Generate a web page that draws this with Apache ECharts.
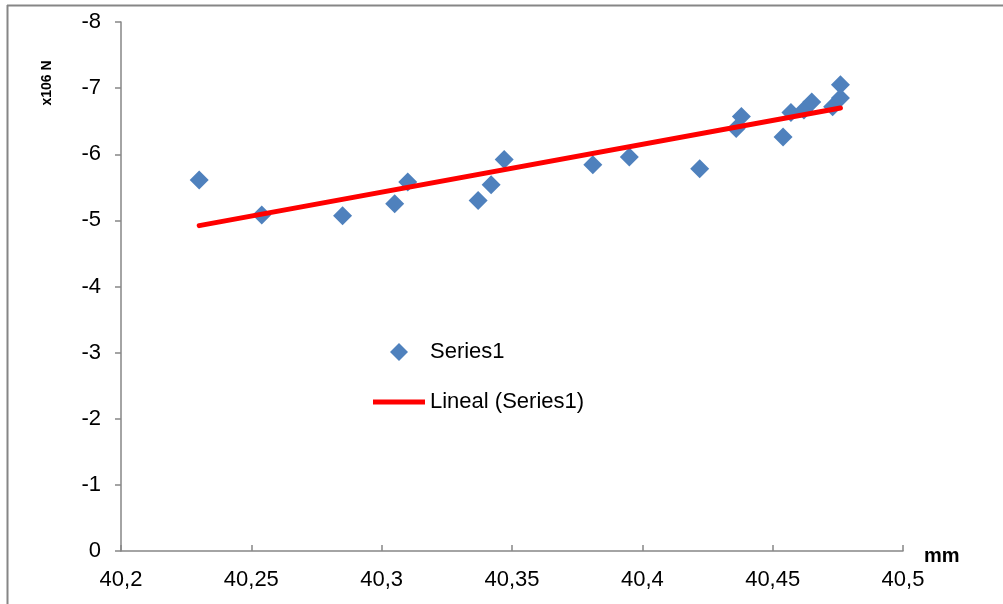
<!DOCTYPE html>
<html>
<head>
<meta charset="utf-8">
<script src="https://cdn.jsdelivr.net/npm/echarts@6/dist/echarts.min.js"></script>
<style>
html,body{margin:0;padding:0;background:#fff;}
#c{width:1003px;height:604px;}
</style>
</head>
<body>
<div id="c"></div>
<script>
// Data
const xValues = [40.230, 40.254, 40.285, 40.305, 40.310, 40.337, 40.342, 40.347, 40.381, 40.395, 40.422, 40.436, 40.438, 40.454, 40.457, 40.462, 40.465, 40.473, 40.476, 40.476];
const yValues = [-5.61, -5.08, -5.07, -5.25, -5.58, -5.30, -5.54, -5.92, -5.84, -5.96, -5.78, -6.39, -6.57, -6.26, -6.63, -6.67, -6.79, -6.72, -7.05, -6.85];
const trendX = [40.230, 40.476];
const trendY = [-4.92, -6.70];
const seriesNames = ['Series1', 'Lineal (Series1)'];
const yAxisTitle = 'x106 N';
const xAxisTitle = 'mm';

const font = '"Liberation Sans", Arial, sans-serif';
const chart = echarts.init(document.getElementById('c'), null, {renderer: 'canvas'});

const pts = xValues.map((x, i) => [x, yValues[i]]);
const trend = trendX.map((x, i) => [x, trendY[i]]);

chart.setOption({
  animation: false,
  backgroundColor: '#ffffff',
  grid: {left: 121, right: 100, top: 22, bottom: 53, containLabel: false},
  xAxis: {
    type: 'value', min: 40.2, max: 40.5, interval: 0.05,
    axisLine: {show: true, onZero: false, lineStyle: {color: '#868686', width: 1.5}},
    axisTick: {show: true, inside: true, length: 6, lineStyle: {color: '#868686', width: 1.5}},
    splitLine: {show: false},
    axisLabel: {
      margin: 18, color: '#000', fontSize: 22, fontFamily: font,
      formatter: v => String(+v.toFixed(2)).replace('.', ',')
    }
  },
  yAxis: {
    type: 'value', inverse: true, min: -8, max: 0, interval: 1,
    axisLine: {show: true, onZero: false, lineStyle: {color: '#868686', width: 1.5}},
    axisTick: {show: true, inside: false, length: 6, lineStyle: {color: '#868686', width: 1.5}},
    splitLine: {show: false},
    axisLabel: {margin: 20, color: '#000', fontSize: 22, fontFamily: font,
      formatter: v => String(Math.round(v))}
  },
  legend: {
    orient: 'vertical', left: 368, top: 336,
    itemWidth: 52, itemHeight: 18, itemGap: 28,
    symbolKeepAspect: true,
    textStyle: {fontSize: 22, fontFamily: font, color: '#000'},
    data: [
      {name: seriesNames[0], icon: 'path://M5,0 L10,5 L5,10 L0,5 Z', itemStyle: {color: '#4F81BD', opacity: 1}},
      {name: seriesNames[1], icon: 'path://M0,0 H52 V5 H0 Z', itemStyle: {color: '#FF0000'}}
    ]
  },
  series: [
    {
      name: seriesNames[0], type: 'scatter', data: pts,
      symbol: 'diamond', symbolSize: 19,
      itemStyle: {color: '#4F81BD', opacity: 1}, z: 2
    },
    {
      name: seriesNames[1], type: 'line', data: trend,
      symbol: 'none', showSymbol: false,
      lineStyle: {color: '#FF0000', width: 5, cap: 'round'},
      itemStyle: {color: '#FF0000'}, z: 3
    }
  ],
  graphic: [
    {type: 'line', shape: {x1: 7, y1: 5.5, x2: 1003, y2: 5.5}, style: {stroke: '#868686', lineWidth: 2}},
    {type: 'line', shape: {x1: 7.5, y1: 5, x2: 7.5, y2: 604}, style: {stroke: '#868686', lineWidth: 2}},
    {type: 'text', x: 47, y: 83, rotation: Math.PI / 2,
      style: {text: yAxisTitle, fontSize: 14, fontWeight: 'bold', fontFamily: font, fill: '#000', align: 'center', verticalAlign: 'middle'}},
    {type: 'text', x: 924, y: 556,
      style: {text: xAxisTitle, fontSize: 20, fontWeight: 'bold', fontFamily: font, fill: '#000', align: 'left', verticalAlign: 'middle'}}
  ]
});
</script>
</body>
</html>
